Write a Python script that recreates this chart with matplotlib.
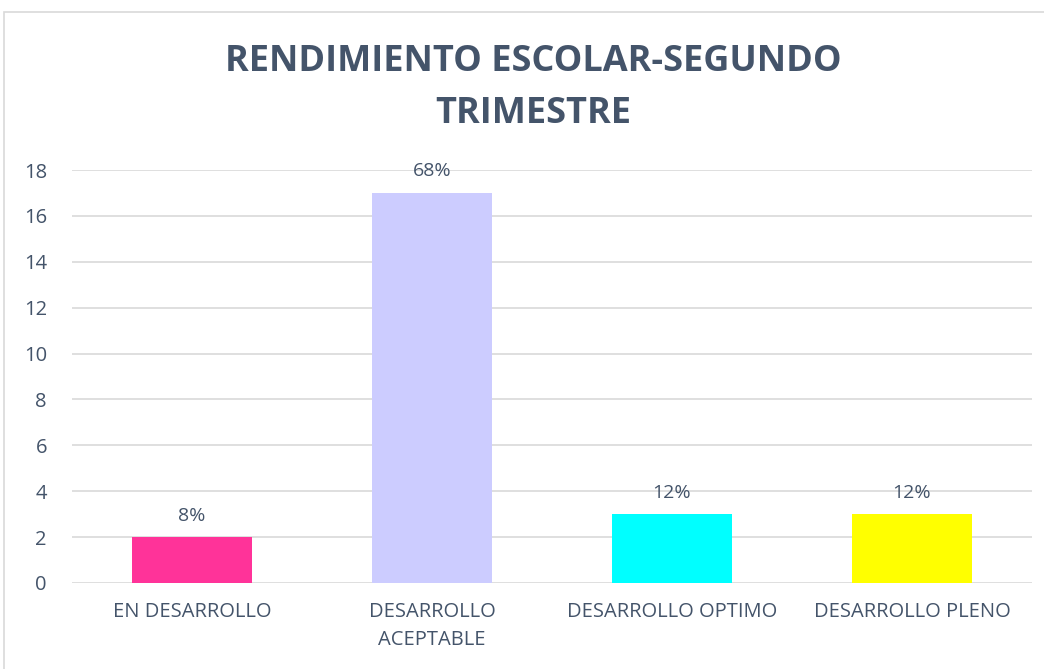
import matplotlib.pyplot as plt
from matplotlib.patches import Rectangle

categories = ["EN DESARROLLO", "DESARROLLO\nACEPTABLE", "DESARROLLO OPTIMO", "DESARROLLO PLENO"]
values = [2, 17, 3, 3]
labels = ["8%", "68%", "12%", "12%"]
colors = ["#FF3399", "#CCCCFF", "#00FFFF", "#FFFF00"]
yticks = [0, 2, 4, 6, 8, 10, 12, 14, 16, 18]
title = "RENDIMIENTO ESCOLAR-SEGUNDO\nTRIMESTRE"

txt = "#44546A"
plt.rcParams['font.family'] = ['Open Sans', 'DejaVu Sans']

W, H = 1044, 669
fig = plt.figure(figsize=(W / 100, H / 100), dpi=100)
fig.patches.append(Rectangle((4 / W, -0.05), 1.2, 1 - 12 / H + 0.05, transform=fig.transFigure,
                             fill=False, edgecolor="#D9D9D9", linewidth=1.2))

ax = fig.add_axes([72 / W, 1 - 583 / H, 960 / W, (583 - 170) / H])
x = list(range(len(categories)))
ax.bar(x, values, width=0.5, color=colors, zorder=3)
for xi, v, lab in zip(x, values, labels):
    ax.annotate(lab, (xi, v), xytext=(0, 9), textcoords="offset points",
                ha="center", va="bottom", fontsize=14, color=txt)

ax.set_xlim(-0.5, len(categories) - 0.5)
ax.set_ylim(0, 18)
ax.set_yticks(yticks)
ax.set_xticks(x)
ax.set_xticklabels(categories, fontsize=14.5, color=txt, linespacing=1.5)
ax.tick_params(axis="y", labelsize=14.5, labelcolor=txt, length=0, pad=18)
ax.tick_params(axis="x", length=0, pad=14)
ax.grid(axis="y", color="#D9D9D9", linewidth=1.2, zorder=0)
for s in ax.spines.values():
    s.set_visible(False)

fig.text(0.511, 1 - 88 / H, title, ha="center", va="center", fontsize=26, fontweight="bold",
         color=txt, linespacing=1.62, family=['Open Sans', 'DejaVu Sans'])

fig.savefig("out.png", dpi=100)
